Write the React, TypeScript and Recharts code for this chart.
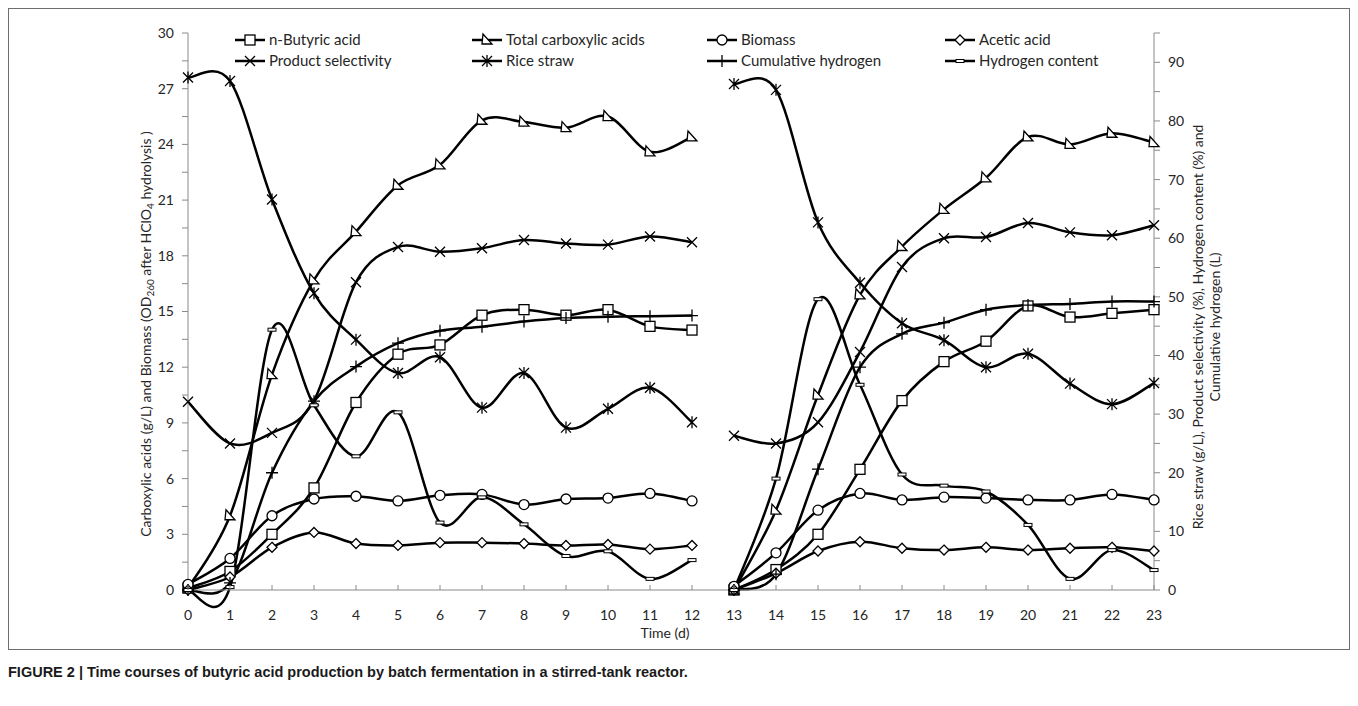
import React from 'react';
import { LineChart, Line, XAxis, YAxis } from 'recharts';

// ---------- data ----------
const days = [0, 1, 2, 3, 4, 5, 6, 7, 8, 9, 10, 11, 12, 13, 14, 15, 16, 17, 18, 19, 20, 21, 22, 23];
const xTicks = [0, 1, 2, 3, 4, 5, 6, 7, 8, 9, 10, 11, 12, 13, 14, 15, 16, 17, 18, 19, 20, 21, 22, 23];
const leftTicks = [0, 1.5, 3, 4.5, 6, 7.5, 9, 10.5, 12, 13.5, 15, 16.5, 18, 19.5, 21, 22.5, 24, 25.5, 27, 28.5, 30];
const rightTicks = [0, 5, 10, 15, 20, 25, 30, 35, 40, 45, 50, 55, 60, 65, 70, 75, 80, 85, 90, 95];
const batchEndDay = 12;

// left axis (g/L, OD)
const butyric = [0.1, 1.0, 3.0, 5.5, 10.1, 12.7, 13.2, 14.8, 15.1, 14.8, 15.1, 14.2, 14.0, 0.0, 1.1, 3.0, 6.5, 10.2, 12.3, 13.4, 15.3, 14.7, 14.9, 15.1];
const totalAcids = [0.1, 4.0, 11.6, 16.7, 19.3, 21.8, 22.9, 25.3, 25.2, 24.9, 25.5, 23.6, 24.4, 0.0, 4.3, 10.5, 15.9, 18.5, 20.5, 22.2, 24.4, 24.0, 24.6, 24.1];
const biomass = [0.3, 1.7, 4.0, 4.9, 5.05, 4.8, 5.1, 5.15, 4.6, 4.9, 4.95, 5.2, 4.8, 0.2, 2.0, 4.3, 5.2, 4.85, 5.0, 4.95, 4.85, 4.85, 5.15, 4.85];
const acetic = [0.0, 0.7, 2.3, 3.1, 2.5, 2.4, 2.55, 2.55, 2.5, 2.4, 2.45, 2.2, 2.4, 0.0, 0.9, 2.1, 2.6, 2.25, 2.15, 2.3, 2.15, 2.25, 2.3, 2.1];
// right axis (%, g/L, L)
const selectivity = [32.1, 25.0, 26.8, 32.3, 52.5, 58.5, 57.7, 58.3, 59.7, 59.1, 58.9, 60.3, 59.3, 26.3, 25.0, 28.6, 40.6, 55.1, 60.0, 60.2, 62.6, 61.0, 60.5, 62.2];
const riceStraw = [87.4, 86.8, 66.6, 50.6, 42.7, 37.0, 39.7, 31.1, 37.0, 27.7, 30.9, 34.5, 28.6, 86.3, 85.3, 62.7, 52.4, 45.5, 42.6, 38.0, 40.3, 35.2, 31.7, 35.3];
const cumHydrogen = [0.0, 1.2, 20.0, 32.2, 38.1, 42.1, 44.2, 44.9, 45.8, 46.4, 46.6, 46.7, 46.8, 0.0, 2.7, 20.6, 38.0, 43.7, 45.6, 47.8, 48.6, 48.8, 49.2, 49.2];
const h2Content = [0.0, 0.5, 44.4, 31.5, 22.8, 30.3, 11.5, 15.8, 11.2, 5.8, 6.6, 1.9, 5.1, 0.0, 19.0, 49.6, 35.0, 19.7, 17.8, 16.8, 11.1, 1.9, 6.8, 3.4];

type MarkerKind = 'square' | 'triangle' | 'circle' | 'diamond' | 'x' | 'star' | 'plus' | 'dash';

const series: { key: string; name: string; values: number[]; axis: string; marker: MarkerKind }[] = [
  { key: 'butyric', name: 'n-Butyric acid', values: butyric, axis: 'left', marker: 'square' },
  { key: 'total', name: 'Total carboxylic acids', values: totalAcids, axis: 'left', marker: 'triangle' },
  { key: 'biomass', name: 'Biomass', values: biomass, axis: 'left', marker: 'circle' },
  { key: 'acetic', name: 'Acetic acid', values: acetic, axis: 'left', marker: 'diamond' },
  { key: 'selectivity', name: 'Product selectivity', values: selectivity, axis: 'right', marker: 'x' },
  { key: 'rice', name: 'Rice straw', values: riceStraw, axis: 'right', marker: 'star' },
  { key: 'cumh2', name: 'Cumulative hydrogen', values: cumHydrogen, axis: 'right', marker: 'plus' },
  { key: 'h2', name: 'Hydrogen content', values: h2Content, axis: 'right', marker: 'dash' },
];

const data: any[] = [];
days.forEach((d, i) => {
  const row: any = { day: d };
  series.forEach((s) => (row[s.key] = s.values[i]));
  data.push(row);
  if (d === batchEndDay) {
    const gap: any = { day: d + 0.5 };
    series.forEach((s) => (gap[s.key] = null));
    data.push(gap);
  }
});

// ---------- layout ----------
const CHART_W = 1342;
const CHART_H = 642;
const PLOT_TOP = 25;
const PLOT_BOTTOM = 582;
const AXIS_COLOR = '#8a8a8a';
const TEXT_COLOR = '#262626';
const FONT = 'Lato, "Open Sans", sans-serif';

// Excel-like smoothed line (Catmull-Rom Bezier)
function excelCurve(context: any) {
  let pts: number[][] = [];
  return {
    areaStart() {},
    areaEnd() {},
    lineStart() {
      pts = [];
    },
    lineEnd() {
      const n = pts.length;
      if (n === 0) return;
      context.moveTo(pts[0][0], pts[0][1]);
      for (let i = 0; i < n - 1; i++) {
        const p0 = pts[i - 1] || pts[i];
        const p1 = pts[i];
        const p2 = pts[i + 1];
        const p3 = pts[i + 2] || p2;
        const c1x = p1[0] + (p2[0] - p0[0]) / 6;
        const c1y = p1[1] + (p2[1] - p0[1]) / 6;
        const c2x = p2[0] - (p3[0] - p1[0]) / 6;
        const c2y = p2[1] - (p3[1] - p1[1]) / 6;
        context.bezierCurveTo(c1x, c1y, c2x, c2y, p2[0], p2[1]);
      }
    },
    point(x: number, y: number) {
      pts.push([+x, +y]);
    },
  };
}

function MarkerShape({ kind, cx, cy }: { kind: MarkerKind; cx: number; cy: number }) {
  const st = { stroke: '#000', strokeWidth: 1.3, fill: '#fff' };
  switch (kind) {
    case 'square':
      return <rect x={cx - 5} y={cy - 5} width={10} height={10} {...st} />;
    case 'circle':
      return <circle cx={cx} cy={cy} r={5} {...st} />;
    case 'triangle':
      return <path d={`M${cx - 4},${cy - 6} L${cx + 5},${cy + 4} L${cx - 5},${cy + 4} Z`} {...st} />;
    case 'diamond':
      return <path d={`M${cx},${cy - 5} L${cx + 5},${cy} L${cx},${cy + 5} L${cx - 5},${cy} Z`} {...st} />;
    case 'x':
      return (
        <path d={`M${cx - 5},${cy - 5} L${cx + 5},${cy + 5} M${cx - 5},${cy + 5} L${cx + 5},${cy - 5}`} stroke="#000" strokeWidth={1.3} fill="none" />
      );
    case 'star':
      return (
        <path
          d={`M${cx - 5},${cy - 5} L${cx + 5},${cy + 5} M${cx - 5},${cy + 5} L${cx + 5},${cy - 5} M${cx},${cy - 6} L${cx},${cy + 6}`}
          stroke="#000"
          strokeWidth={1.3}
          fill="none"
        />
      );
    case 'plus':
      return <path d={`M${cx - 6},${cy} L${cx + 6},${cy} M${cx},${cy - 6} L${cx},${cy + 6}`} stroke="#000" strokeWidth={1.3} fill="none" />;
    case 'dash':
      return <rect x={cx - 4} y={cy - 1.5} width={8} height={3} stroke="#000" strokeWidth={1} fill="#fff" />;
  }
  return null;
}

const makeDot = (kind: MarkerKind) => (props: any) => {
  const { cx, cy, index } = props;
  if (cx == null || cy == null || Number.isNaN(cx) || Number.isNaN(cy)) return <g key={`e-${kind}-${index}`} />;
  return (
    <g key={`m-${kind}-${index}`}>
      <MarkerShape kind={kind} cx={cx} cy={cy} />
    </g>
  );
};

const XTick = (props: any) => {
  const { x, payload } = props;
  return (
    <g>
      <line x1={x} x2={x} y1={PLOT_BOTTOM} y2={PLOT_BOTTOM - 5} stroke={AXIS_COLOR} strokeWidth={1} />
      <text x={x} y={PLOT_BOTTOM + 30} textAnchor="middle" fill={TEXT_COLOR} fontSize={14} fontFamily={FONT}>
        {payload.value}
      </text>
    </g>
  );
};

const legendCols = [227, 464, 699, 937];
const legendRows = [32, 53];

function LegendOverlay() {
  return (
    <svg width={CHART_W} height={80} style={{ position: 'absolute', left: 0, top: 0, pointerEvents: 'none' }}>
      {series.map((s, i) => {
        const x = legendCols[i % 4];
        const y = legendRows[Math.floor(i / 4)];
        return (
          <g key={s.key}>
            <line x1={x} x2={x + 30} y1={y} y2={y} stroke="#000" strokeWidth={2.5} />
            <MarkerShape kind={s.marker} cx={x + 15} cy={y} />
            <text x={x + 34} y={y + 5} fontSize={15} fontFamily={FONT} fill={TEXT_COLOR}>
              {s.name}
            </text>
          </g>
        );
      })}
    </svg>
  );
}

export default function App() {
  return (
    <div style={{ position: 'relative', width: CHART_W, height: 690, fontFamily: FONT, color: TEXT_COLOR }}>
      <div
        style={{
          position: 'absolute',
          left: 0,
          top: 0,
          width: CHART_W,
          height: CHART_H,
          border: '1.5px solid #6e6e6e',
          boxSizing: 'border-box',
        }}
      />
      <div style={{ position: 'absolute', left: 0, top: 0 }}>
        <LineChart width={CHART_W} height={CHART_H} data={data} margin={{ top: PLOT_TOP, right: 146, bottom: 20, left: 130 }}>
          <XAxis
            dataKey="day"
            type="number"
            domain={[0, 23]}
            ticks={xTicks}
            interval={0}
            height={40}
            axisLine={{ stroke: AXIS_COLOR }}
            tickLine={false}
            tick={<XTick />}
          />
          <YAxis
            yAxisId="left"
            width={50}
            domain={[0, 30]}
            ticks={leftTicks}
            interval={0}
            axisLine={{ stroke: AXIS_COLOR }}
            tickLine={{ stroke: AXIS_COLOR }}
            tickSize={6}
            tickMargin={8}
            tickFormatter={(v: number) => (v % 3 === 0 ? String(v) : '')}
            tick={{ fill: TEXT_COLOR, fontSize: 14, fontFamily: FONT }}
          />
          <YAxis
            yAxisId="right"
            orientation="right"
            width={50}
            domain={[0, 95]}
            ticks={rightTicks}
            interval={0}
            axisLine={{ stroke: AXIS_COLOR }}
            tickLine={{ stroke: AXIS_COLOR }}
            tickSize={6}
            tickMargin={8}
            tickFormatter={(v: number) => (v % 10 === 0 && v <= 90 ? String(v) : '')}
            tick={{ fill: TEXT_COLOR, fontSize: 14, fontFamily: FONT }}
          />
          {series.map((s) => (
            <Line
              key={s.key}
              yAxisId={s.axis}
              dataKey={s.key}
              name={s.name}
              type={excelCurve as any}
              stroke="#000"
              strokeWidth={2.5}
              dot={makeDot(s.marker)}
              activeDot={false}
              connectNulls={false}
              isAnimationActive={false}
            />
          ))}
        </LineChart>
      </div>
      <LegendOverlay />
      <div
        style={{
          position: 'absolute',
          left: 140,
          top: 326,
          transform: 'translate(-50%, -50%) rotate(-90deg)',
          whiteSpace: 'nowrap',
          fontSize: 14,
          lineHeight: '17px',
        }}
      >
        Carboxylic acids (g/L) and Biomass (OD<sub style={{ fontSize: 10 }}>260</sub> after HClO<sub style={{ fontSize: 10 }}>4</sub> hydrolysis )
      </div>
      <div
        style={{
          position: 'absolute',
          left: 1198,
          top: 319,
          transform: 'translate(-50%, -50%) rotate(-90deg)',
          whiteSpace: 'nowrap',
          fontSize: 14,
          lineHeight: '17px',
          textAlign: 'center',
        }}
      >
        Rice straw (g/L), Product selectivity (%), Hydrogen content (%) and
        <br />
        Cumulative hydrogen (L)
      </div>
      <div
        style={{
          position: 'absolute',
          left: 657,
          top: 624,
          transform: 'translate(-50%, -50%)',
          whiteSpace: 'nowrap',
          fontSize: 14,
          lineHeight: '15px',
        }}
      >
        Time (d)
      </div>
      <div
        style={{
          position: 'absolute',
          left: 0,
          top: 656,
          fontFamily: '"Liberation Sans", Arial, sans-serif',
          fontWeight: 'bold',
          fontSize: 14.5,
          color: '#1a1a1a',
          whiteSpace: 'nowrap',
        }}
      >
        FIGURE 2 | Time courses of butyric acid production by batch fermentation in a stirred-tank reactor.
      </div>
    </div>
  );
}
